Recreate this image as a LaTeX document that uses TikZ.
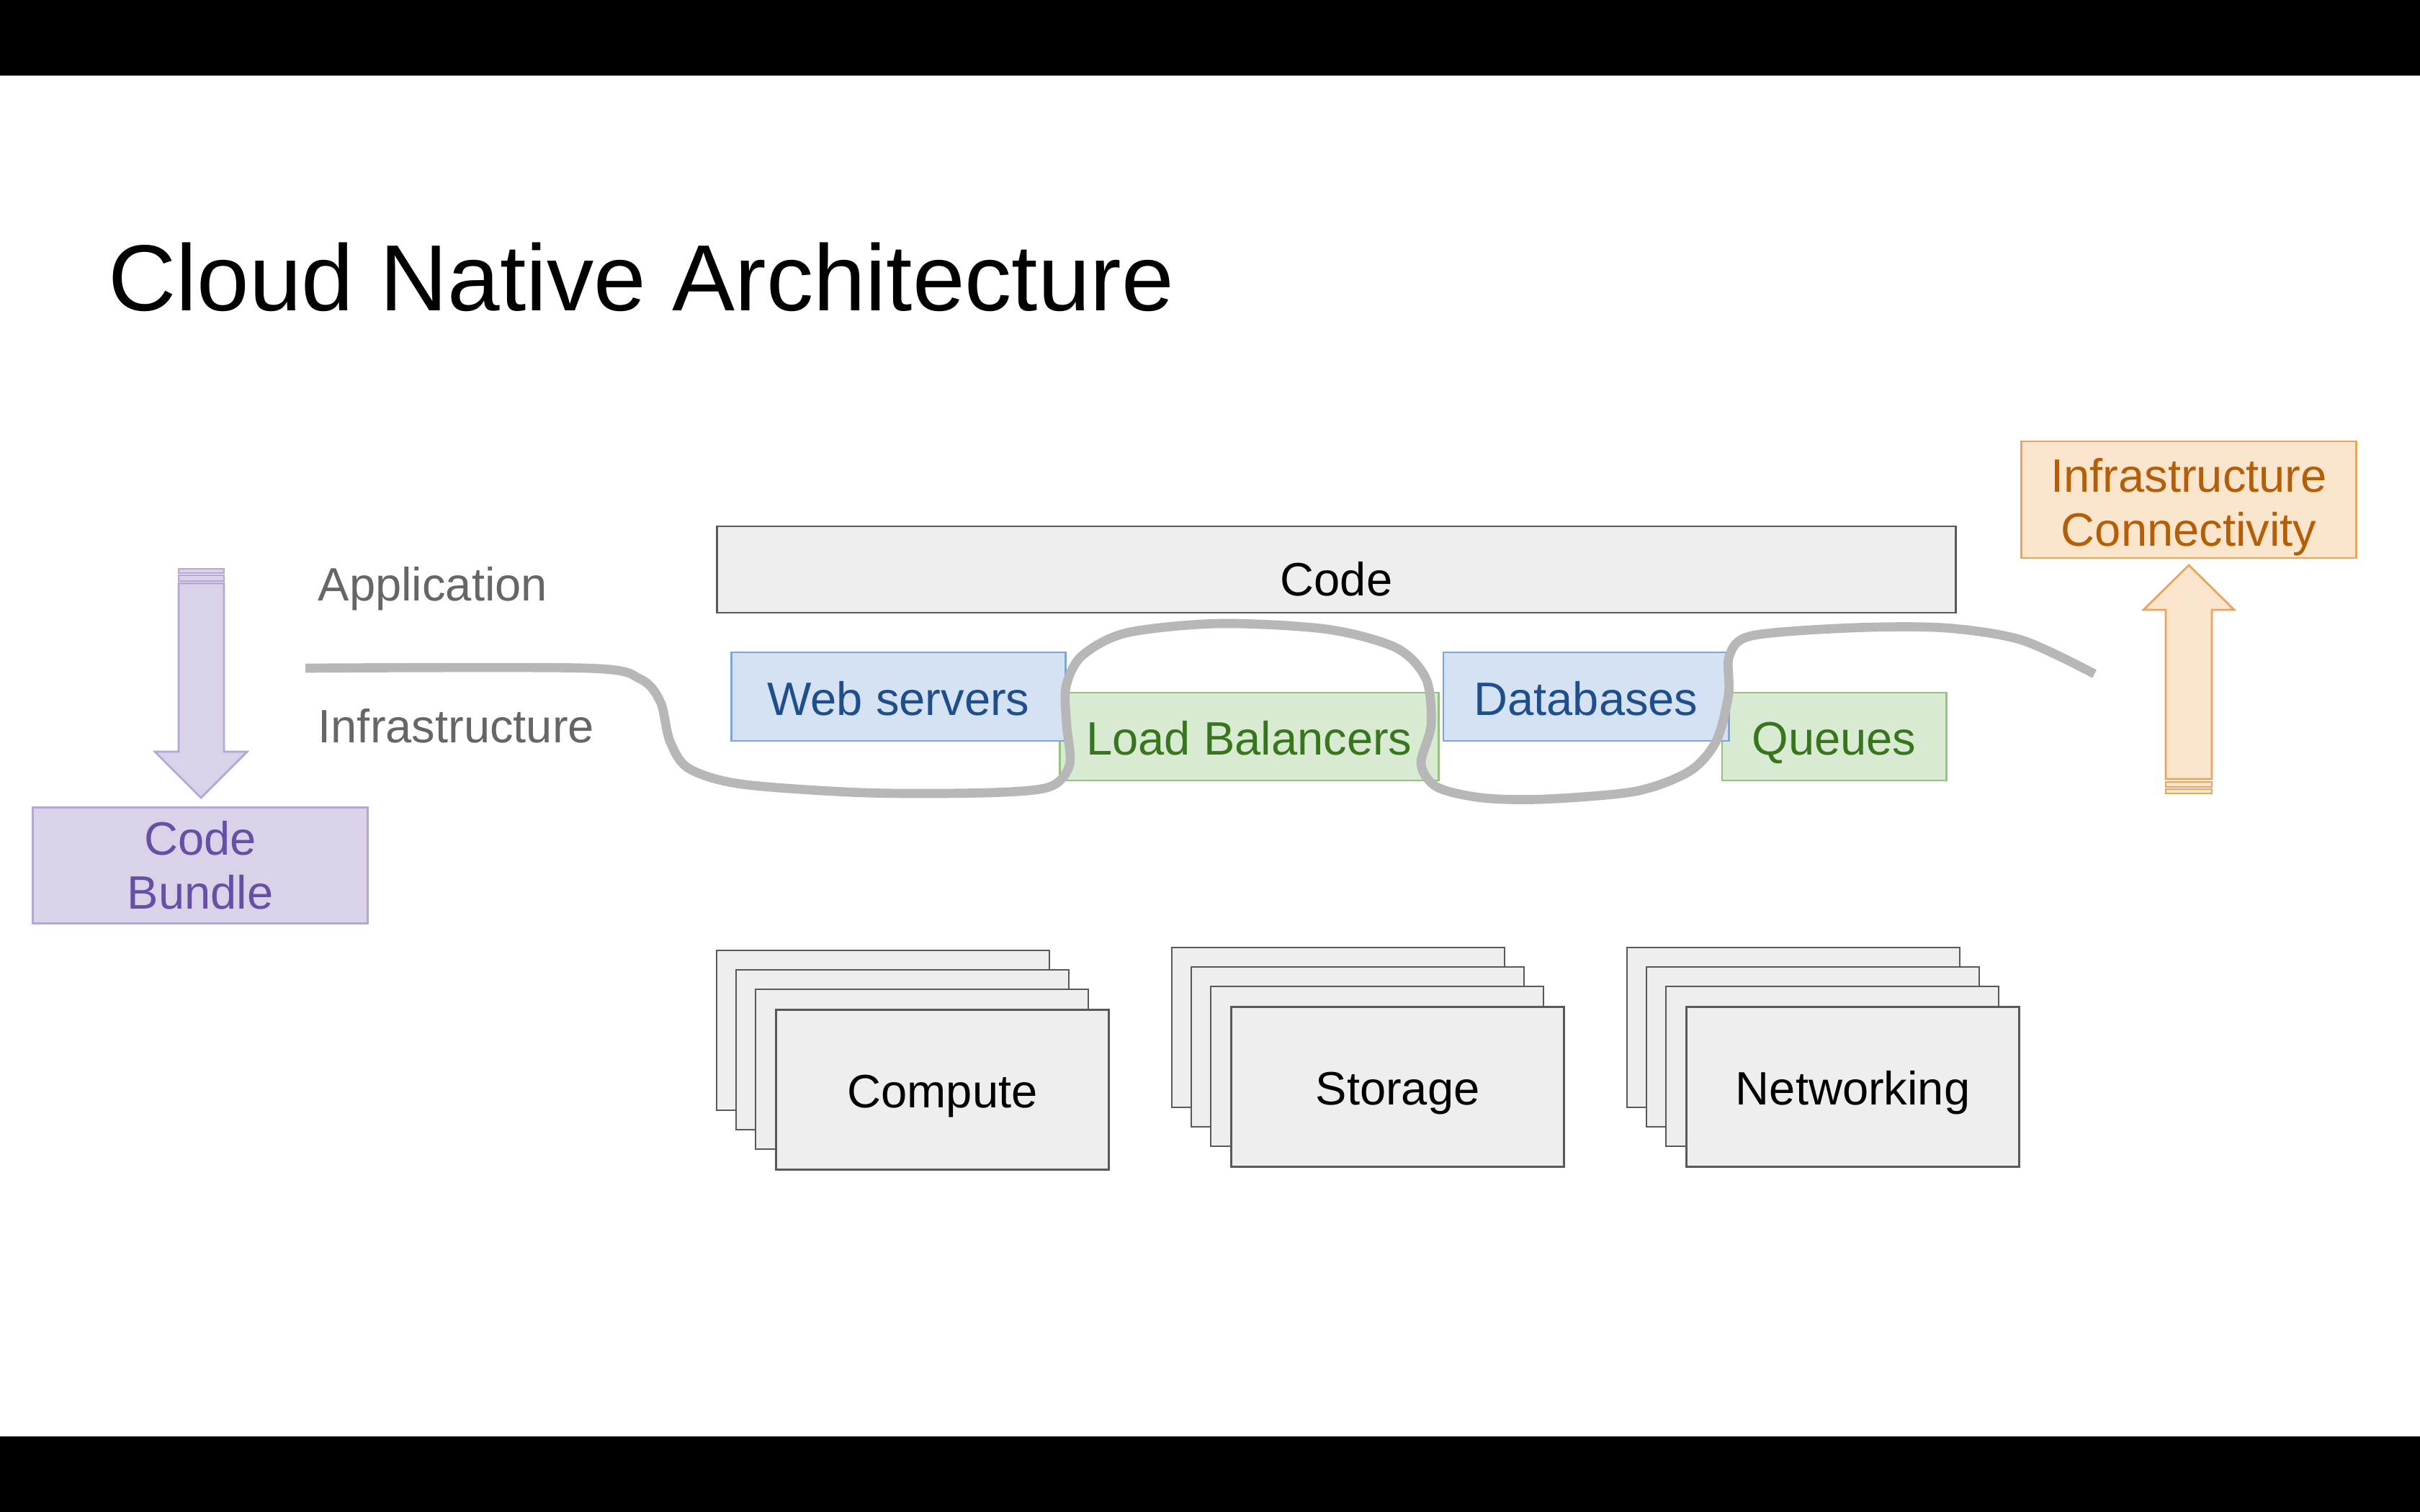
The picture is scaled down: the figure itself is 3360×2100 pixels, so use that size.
\documentclass[tikz,border=0pt]{standalone}
\usepackage{fontspec}
\setmainfont{Liberation Sans}
\definecolor{grayfill}{HTML}{EEEEEE}
\definecolor{grayline}{HTML}{595959}
\definecolor{wavegray}{HTML}{B7B7B7}
\definecolor{labelgray}{HTML}{666666}
\definecolor{bluefill}{HTML}{D5E2F3}
\definecolor{blueline}{HTML}{7EA6DC}
\definecolor{bluetext}{HTML}{1F4E8C}
\definecolor{greenfill}{HTML}{D9EAD3}
\definecolor{greenline}{HTML}{93C47D}
\definecolor{greentext}{HTML}{38761D}
\definecolor{purplefill}{HTML}{D9D2E9}
\definecolor{purpleline}{HTML}{B4A7D6}
\definecolor{purpletext}{HTML}{674EA7}
\definecolor{orangefill}{HTML}{FCE5CD}
\definecolor{orangeline}{HTML}{ECA35A}
\definecolor{orangetext}{HTML}{B45F06}
\newcommand{\lbl}{\fontsize{18.5}{21.3}\selectfont}

\begin{document}
\begin{tikzpicture}[x=0.01cm,y=-0.01cm,
  graybox/.style={draw=grayline,fill=grayfill,line width=0.8pt,inner sep=0pt,font=\lbl,text height=14.5pt,text depth=0pt},
  bluebox/.style={draw=blueline,fill=bluefill,line width=0.8pt,inner sep=0pt,font=\lbl,text=bluetext,text height=14.5pt,text depth=0pt},
  greenbox/.style={draw=greenline,fill=greenfill,line width=0.8pt,inner sep=0pt,font=\lbl,text=greentext,text height=14.5pt,text depth=0pt},
  purplebox/.style={draw=purpleline,fill=purplefill,line width=0.8pt,inner sep=0pt,font=\lbl,text=purpletext,align=center},
  orangebox/.style={draw=orangeline,fill=orangefill,line width=0.8pt,inner sep=0pt,font=\lbl,text=orangetext,align=center},
  layer/.style={font=\lbl,text=labelgray,inner sep=0pt,anchor=base west},
  wave/.style={wavegray,line width=3.6pt,line cap=butt}]
  \useasboundingbox (0,0) rectangle (3360,2100);
  \fill[white] (0,0) rectangle (3360,2100);
  \fill[black] (0,0) rectangle (3360,105)
               (0,1995) rectangle (3360,2100);
  %title
  \node[anchor=base west,inner sep=0pt,font=\fontsize{37.1}{45}\selectfont] (title)
        at (150,431) {Cloud Native Architecture};
  %layers
  \node[layer] (app) at (441,834) {Application};
  \node[layer] (infra) at (441,1031) {Infrastructure};
  \node[graybox,text height=20.6pt,minimum width=17.19cm,minimum height=1.2cm] (code) at (1855.5,791) {Code};
  \node[greenbox,minimum width=5.25cm,minimum height=1.22cm] (lb) at (1734.5,1023) {Load Balancers};
  \node[greenbox,minimum width=3.11cm,minimum height=1.22cm] (queues) at (2546.5,1023) {Queues};
  \node[bluebox,minimum width=4.63cm,minimum height=1.23cm] (web) at (1247.5,967.5) {Web servers};
  \node[bluebox,minimum width=3.96cm,minimum height=1.23cm] (db) at (2202,967.5) {Databases};
  %machines
  \foreach \x/\y/\nm/\txt in {1076/1401/compute/Compute,1708/1397/storage/Storage,2340/1397/network/Networking}
  {
    \foreach \k in {3,2,1}
      \filldraw[draw=grayline,fill=grayfill,line width=0.8pt] (\x-27*\k,\y-27*\k) rectangle ++(462,222);
    \node[graybox,anchor=north west,minimum width=4.62cm,minimum height=2.22cm] (\nm) at (\x,\y) {\txt};
  }
  %boxes at the sides
  \node[purplebox,minimum width=4.64cm,minimum height=1.61cm] (bundle) at (278,1202) {Code\\Bundle};
  \node[orangebox,minimum width=4.64cm,minimum height=1.62cm] (conn) at (3039,694) {\rule{0pt}{19pt}Infrastructure\\Connectivity};
  %arrows
  \filldraw[draw=purpleline,fill=purplefill,line width=0.8pt,line join=miter]
        (248,810) -- (311,810) -- (311,1044) -- (343,1044) -- (279,1108)
        -- (215,1044) -- (248,1044) -- cycle;
  \filldraw[draw=purpleline,fill=purplefill,line width=0.8pt]
        (248,790) rectangle (311,796)
        (248,799) rectangle (311,807);
  \filldraw[draw=orangeline,fill=orangefill,line width=0.8pt,line join=miter]
        (3007,1082) -- (3007,847) -- (2976,847) -- (3039,785) -- (3102,847)
        -- (3071,847) -- (3071,1082) -- cycle;
  \filldraw[draw=orangeline,fill=orangefill,line width=0.8pt]
        (3007,1086) rectangle (3071,1093)
        (3007,1096) rectangle (3071,1102);
  %split line
  \draw[wave] plot[smooth,tension=0.5] coordinates {
        (424,928) (814,928) (889,943) (917,975) (930,1029) (956,1067)
        (1029,1089) (1200,1101) (1371,1101) (1457,1093) (1485,1062)
        (1481,1007) (1480,954) (1502,911) (1564,879) (1693,866)
        (1843,874) (1939,900) (1980,943) (1987,1007) (1973,1061)
        (1995,1093) (2057,1108) (2143,1110) (2271,1099) (2346,1071)
        (2383,1029) (2400,964) (2401,911) (2432,883) (2571,872)
        (2700,872) (2807,889) (2908,936)};
\end{tikzpicture}
\end{document}
